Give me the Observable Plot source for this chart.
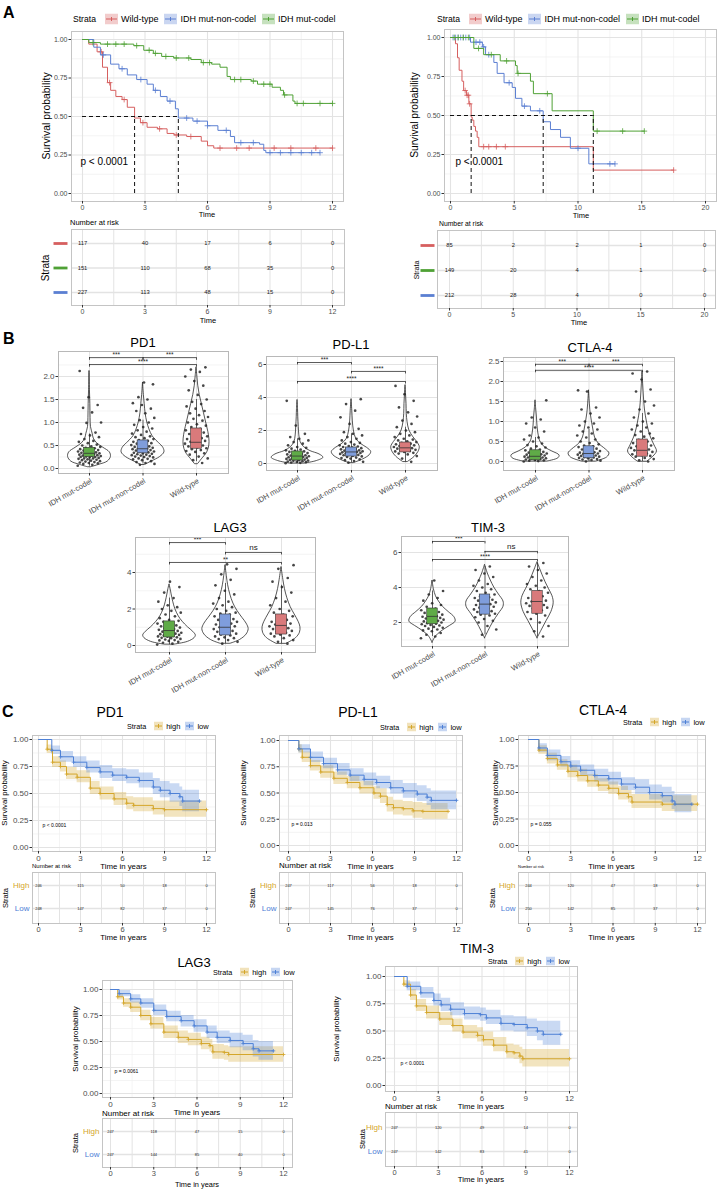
<!DOCTYPE html>
<html><head><meta charset="utf-8">
<script src="https://cdn.jsdelivr.net/npm/d3@7"></script>
<script src="https://cdn.jsdelivr.net/npm/@observablehq/plot@0.6"></script>
<style>
body{margin:0;background:#fff;}
#root{position:relative;width:720px;height:1190px;overflow:hidden;background:#fff;font-family:"Liberation Sans",Arial,Helvetica,sans-serif;}
</style></head><body><div id="root"></div>
<script>
// ================= DATA =================
// ---- Panel A (left) ----
const aStrata = ["Wild-type", "IDH mut-non-codel", "IDH mut-codel"];
const aL_wt_t = [0,0.3,0.7,0.96,1.2,1.35,1.6,1.9,2.15,2.5,2.78,3.1,3.6,4.06,4.4,5.0,5.7,6.0,6.3,12];
const aL_wt_s = [1,0.97,0.92,0.82,0.72,0.67,0.63,0.61,0.56,0.49,0.46,0.43,0.42,0.39,0.38,0.37,0.34,0.31,0.295,0.295];
const aL_wt_c = [0.9,1.3,2.0,2.9,3.7,4.5,5.2,6.6,7.4,8.0,9.2,10.0,11.2,12];
const aL_non_t = [0,0.54,0.86,1.35,1.75,2.15,2.6,3.1,3.4,3.74,4.06,4.46,4.6,5.3,6.0,6.5,7.1,7.3,8.5,8.7,8.8,11.4];
const aL_non_s = [1,0.95,0.9,0.84,0.81,0.77,0.74,0.71,0.67,0.63,0.6,0.55,0.49,0.47,0.44,0.41,0.37,0.33,0.32,0.28,0.265,0.265];
const aL_non_c = [1.0,1.9,2.8,3.5,4.2,5.0,5.5,6.0,6.9,7.6,8.2,9.0,9.5,10.0,10.5,11.0,11.4];
const aL_cod_t = [0,0.3,0.86,2.46,2.94,3.4,3.8,4.38,5.2,5.7,6.2,6.6,6.94,7.1,8.1,8.4,9.1,9.5,9.65,10.1,10.2,12];
const aL_cod_s = [1,0.98,0.97,0.96,0.93,0.91,0.89,0.88,0.87,0.85,0.84,0.82,0.76,0.74,0.73,0.71,0.69,0.67,0.64,0.6,0.585,0.585];
const aL_cod_c = [0.5,1.2,1.6,2.0,2.6,3.2,3.5,4.0,4.5,5.1,5.8,6.1,7.3,7.6,8.2,8.7,9.0,9.7,10.3,10.6,11.4,12];
const aL_medians = [2.5, 4.6];
const aL_times = [0,3,6,9,12];
const aL_risk_wt = [117,40,17,6,0];
const aL_risk_cod = [151,110,68,35,0];
const aL_risk_non = [227,113,48,15,0];
const aL_p = "p < 0.0001";
// ---- Panel A (right) ----
const aR_wt_t = [0,0.39,0.55,0.68,0.9,1.03,1.25,1.44,1.62,1.7,1.83,1.96,2.09,2.22,11.2,17.5];
const aR_wt_s = [1,0.96,0.87,0.79,0.72,0.66,0.63,0.575,0.49,0.47,0.43,0.40,0.36,0.30,0.15,0.15];
const aR_wt_c = [1.15,1.3,1.4,1.5,2.6,3.0,3.6,4.3,17.5];
const aR_non_t = [0,1.57,2.5,2.75,3.4,3.66,4.2,4.84,5.1,5.6,6.27,7.27,7.84,8.63,9.4,10.85,12.9];
const aR_non_s = [1,0.97,0.94,0.89,0.84,0.77,0.71,0.68,0.61,0.56,0.53,0.46,0.41,0.36,0.29,0.19,0.19];
const aR_non_c = [0.2,0.4,0.6,0.8,1.0,1.2,1.5,2.0,2.3,2.6,3.0,4.6,5.8,7.0,10.0,12.5,12.9];
const aR_cod_t = [0,1.83,2.6,3.9,5.1,5.23,6.27,6.5,7.97,11.2,15.2];
const aR_cod_s = [1,0.93,0.89,0.85,0.82,0.77,0.72,0.64,0.53,0.40,0.40];
const aR_cod_c = [0.3,0.6,1.0,1.4,2.2,3.2,4.4,5.3,7.6,11.5,13.5,15.2];
const aR_medians = [1.62, 7.27, 11.2];
const aR_times = [0,5,10,15,20];
const aR_risk_wt = [85,2,2,1,0];
const aR_risk_cod = [149,20,4,1,0];
const aR_risk_non = [212,28,4,0,0];
const aR_p = "p < 0.0001";

// ---- Panel B (violins) ----
const bGroups = ["IDH mut-codel", "IDH mut-non-codel", "Wild-type"];
// PD1
const pd1Pts = [
 [0.06,0.08,0.1,0.11,0.12,0.13,0.14,0.15,0.16,0.17,0.18,0.19,0.2,0.21,0.22,0.22,0.23,0.24,0.25,0.25,0.26,0.27,0.28,0.28,0.29,0.3,0.3,0.31,0.32,0.33,0.33,0.34,0.35,0.36,0.37,0.38,0.39,0.4,0.41,0.42,0.44,0.45,0.47,0.48,0.5,0.52,0.55,0.58,0.6,0.64,0.68,0.72,0.75,0.78,0.99,1.0,1.22,1.32,1.38,1.55,2.12],
 [0.08,0.1,0.12,0.14,0.16,0.18,0.2,0.21,0.22,0.24,0.25,0.26,0.27,0.28,0.29,0.3,0.31,0.32,0.33,0.34,0.35,0.36,0.37,0.38,0.39,0.4,0.41,0.42,0.43,0.44,0.45,0.46,0.47,0.48,0.5,0.51,0.52,0.54,0.55,0.57,0.58,0.6,0.62,0.64,0.66,0.68,0.7,0.73,0.76,0.8,0.83,0.87,0.9,0.95,1.0,1.05,1.1,1.2,1.25,1.3,1.38,1.42,1.5,1.55,1.83,1.87],
 [0.12,0.18,0.22,0.26,0.3,0.33,0.36,0.38,0.4,0.42,0.44,0.46,0.48,0.5,0.52,0.54,0.56,0.58,0.6,0.62,0.64,0.66,0.68,0.7,0.72,0.75,0.78,0.8,0.83,0.86,0.9,0.93,0.96,1.0,1.04,1.08,1.12,1.16,1.2,1.25,1.3,1.35,1.4,1.45,1.5,1.6,1.7,1.8,1.9,2.0,2.1,2.15,2.2]];
const pd1Dens = [
 [[0.03,0.1],[0.08,0.45],[0.15,0.85],[0.25,1.0],[0.35,0.95],[0.45,0.65],[0.55,0.35],[0.65,0.2],[0.75,0.15],[0.9,0.07],[1.1,0.05],[1.4,0.04],[1.7,0.02],[2.12,0]],
 [[0.08,0.1],[0.15,0.4],[0.25,0.8],[0.35,1.0],[0.45,0.95],[0.55,0.75],[0.7,0.45],[0.85,0.3],[1.0,0.2],[1.2,0.12],[1.4,0.08],[1.6,0.04],[1.87,0]],
 [[0.1,0.08],[0.2,0.25],[0.35,0.5],[0.5,0.6],[0.65,0.6],[0.8,0.55],[1.0,0.45],[1.2,0.35],[1.4,0.25],[1.6,0.15],[1.8,0.08],[2.0,0.04],[2.2,0]]];
const pd1Box = [[0.05,0.25,0.33,0.45,0.75],[0.1,0.33,0.43,0.61,1.05],[0.15,0.43,0.57,0.87,1.5]];
const pd1Sig = [[1,2,2.41,"***"],[2,3,2.41,"***"],[1,3,2.26,"****"]];
// PD-L1
const pdl1Pts = [
 [0.02,0.04,0.06,0.08,0.1,0.12,0.14,0.16,0.18,0.2,0.22,0.24,0.26,0.28,0.3,0.32,0.34,0.36,0.38,0.4,0.42,0.44,0.46,0.48,0.5,0.52,0.55,0.58,0.6,0.63,0.66,0.7,0.73,0.76,0.8,0.85,0.9,0.95,1.0,1.1,1.2,1.3,1.4,1.5,1.6,1.8,2.3,3.8],
 [0.05,0.1,0.15,0.2,0.25,0.3,0.33,0.36,0.4,0.43,0.46,0.5,0.52,0.55,0.58,0.6,0.62,0.64,0.66,0.68,0.7,0.72,0.74,0.76,0.78,0.8,0.83,0.86,0.88,0.9,0.93,0.96,1.0,1.03,1.06,1.1,1.15,1.2,1.25,1.3,1.4,1.5,1.6,1.7,1.8,1.9,2.1,2.4,2.8,3.2,3.6,3.9],
 [0.1,0.3,0.45,0.55,0.6,0.65,0.7,0.73,0.76,0.8,0.83,0.86,0.9,0.93,0.96,1.0,1.03,1.06,1.1,1.13,1.16,1.2,1.25,1.3,1.35,1.4,1.45,1.5,1.6,1.7,1.8,1.9,2.0,2.2,2.4,2.6,2.85,3.1,3.4,3.8,4.2,4.7]];
const pdl1Dens = [
 [[0.0,0.3],[0.15,0.75],[0.35,1.0],[0.55,0.85],[0.75,0.5],[1.0,0.25],[1.3,0.12],[1.7,0.07],[2.2,0.05],[2.8,0.03],[3.3,0.02],[3.85,0]],
 [[0.03,0.1],[0.25,0.45],[0.5,0.7],[0.7,0.76],[0.95,0.6],[1.2,0.35],[1.5,0.18],[2.0,0.09],[2.6,0.05],[3.2,0.03],[3.9,0]],
 [[0.1,0.1],[0.4,0.35],[0.7,0.5],[1.0,0.55],[1.3,0.45],[1.6,0.3],[2.0,0.15],[2.5,0.08],[3.0,0.05],[3.6,0.04],[4.2,0.02],[4.75,0]]];
const pdl1Box = [[0.02,0.18,0.45,0.73,1.5],[0.05,0.42,0.7,0.97,1.8],[0.1,0.67,0.95,1.27,2.2]];
const pdl1Sig = [[1,2,6.12,"***"],[2,3,5.58,"****"],[1,3,4.97,"****"]];
// CTLA-4
const ctlaPts = [
 [0.0,0.01,0.02,0.03,0.04,0.05,0.06,0.07,0.08,0.09,0.1,0.1,0.11,0.12,0.13,0.14,0.15,0.16,0.17,0.18,0.19,0.2,0.21,0.22,0.24,0.26,0.28,0.3,0.32,0.35,0.38,0.41,0.45,0.5,0.55,0.6,0.65,0.75,0.85,0.95,1.05,1.1,1.53],
 [0.0,0.02,0.04,0.05,0.06,0.08,0.09,0.1,0.11,0.12,0.13,0.14,0.15,0.16,0.17,0.18,0.19,0.2,0.21,0.22,0.23,0.24,0.26,0.28,0.3,0.32,0.34,0.36,0.38,0.4,0.43,0.46,0.5,0.55,0.6,0.65,0.7,0.75,0.8,0.85,0.9,0.95,1.0,1.1,1.2,1.3,1.35,1.75,1.78],
 [0.0,0.03,0.06,0.09,0.12,0.14,0.16,0.18,0.2,0.22,0.24,0.26,0.28,0.3,0.32,0.34,0.36,0.38,0.4,0.43,0.46,0.5,0.54,0.58,0.62,0.66,0.7,0.75,0.8,0.85,0.9,0.95,1.0,1.1,1.2,1.3,1.4,1.5,1.75,1.8,2.05,2.2,2.25]];
const ctlaDens = [
 [[0.0,0.5],[0.08,0.95],[0.15,1.0],[0.25,0.7],[0.35,0.4],[0.5,0.2],[0.7,0.12],[0.9,0.08],[1.1,0.06],[1.3,0.03],[1.53,0]],
 [[0.0,0.3],[0.1,0.75],[0.2,0.85],[0.3,0.7],[0.45,0.4],[0.6,0.25],[0.8,0.18],[1.0,0.12],[1.2,0.07],[1.4,0.04],[1.78,0]],
 [[0.0,0.2],[0.12,0.45],[0.25,0.6],[0.4,0.5],[0.6,0.35],[0.8,0.25],[1.0,0.18],[1.3,0.1],[1.6,0.06],[1.9,0.03],[2.25,0]]];
const ctlaBox = [[0.0,0.03,0.13,0.28,0.6],[0.0,0.08,0.2,0.38,0.8],[0.0,0.12,0.28,0.55,1.2]];
const ctlaSig = [[1,2,2.43,"***"],[2,3,2.43,"***"],[1,3,2.28,"****"]];
// LAG3
const lagPts = [
 [0.05,0.1,0.15,0.2,0.25,0.28,0.3,0.33,0.36,0.4,0.42,0.45,0.48,0.5,0.52,0.55,0.58,0.6,0.62,0.65,0.68,0.7,0.73,0.76,0.8,0.83,0.86,0.9,0.94,0.98,1.0,1.05,1.1,1.15,1.2,1.25,1.3,1.35,1.4,1.5,1.6,1.7,1.8,1.9,2.0,2.1,2.2,2.4,2.6,2.9,3.2,3.5],
 [0.1,0.2,0.3,0.35,0.4,0.45,0.5,0.55,0.6,0.65,0.7,0.75,0.8,0.85,0.9,0.95,1.0,1.05,1.1,1.15,1.2,1.25,1.3,1.35,1.4,1.45,1.5,1.6,1.7,1.75,1.8,1.9,2.0,2.1,2.2,2.3,2.4,2.6,2.8,3.0,3.3,3.6,3.9,4.2,4.45],
 [0.1,0.2,0.3,0.4,0.5,0.55,0.6,0.65,0.7,0.75,0.8,0.85,0.9,0.95,1.0,1.05,1.1,1.15,1.2,1.25,1.3,1.4,1.5,1.6,1.7,1.8,1.9,2.0,2.2,2.4,2.6,2.9,3.2,3.5,3.7,4.2,4.4]];
const lagDens = [
 [[0.05,0.2],[0.2,0.7],[0.4,0.95],[0.55,1.0],[0.75,0.9],[1.0,0.7],[1.3,0.5],[1.6,0.35],[2.0,0.22],[2.4,0.14],[2.8,0.08],[3.1,0.04],[3.35,0]],
 [[0.1,0.2],[0.3,0.55],[0.6,0.8],[0.9,0.88],[1.2,0.8],[1.5,0.65],[1.9,0.45],[2.3,0.3],[2.8,0.18],[3.3,0.1],[3.8,0.05],[4.4,0]],
 [[0.1,0.2],[0.4,0.55],[0.7,0.7],[1.0,0.72],[1.3,0.65],[1.7,0.5],[2.1,0.35],[2.6,0.22],[3.1,0.13],[3.6,0.07],[4.3,0]]];
const lagBox = [[0.05,0.44,0.82,1.32,2.6],[0.1,0.55,1.0,1.7,3.4],[0.1,0.6,1.1,1.7,3.3]];
const lagSig = [[1,2,5.64,"***"],[2,3,5.1,"ns"],[1,3,4.55,"**"]];
// TIM-3
const timPts = [
 [1.1,1.2,1.3,1.4,1.5,1.55,1.6,1.65,1.7,1.75,1.8,1.83,1.86,1.9,1.93,1.96,2.0,2.03,2.06,2.1,2.13,2.16,2.2,2.23,2.26,2.3,2.33,2.36,2.4,2.45,2.5,2.55,2.6,2.65,2.7,2.8,2.9,3.0,3.1,3.25,3.4,3.6,3.8,4.4],
 [1.3,1.6,1.8,2.0,2.1,2.2,2.3,2.4,2.45,2.5,2.55,2.6,2.65,2.7,2.75,2.8,2.85,2.9,2.95,3.0,3.05,3.1,3.15,3.2,3.25,3.3,3.35,3.4,3.45,3.5,3.6,3.7,3.8,3.9,4.0,4.1,4.2,4.4,4.6,4.8,5.0,5.2],
 [1.2,1.5,1.8,2.0,2.2,2.4,2.5,2.6,2.7,2.8,2.85,2.9,2.95,3.0,3.05,3.1,3.15,3.2,3.25,3.3,3.4,3.5,3.6,3.7,3.8,3.9,4.0,4.1,4.2,4.4,4.6,4.8,5.0,5.2,5.4]];
const timDens = [
 [[0.85,0],[1.2,0.15],[1.5,0.4],[1.8,0.75],[2.05,1.0],[2.3,0.95],[2.6,0.7],[2.9,0.45],[3.2,0.28],[3.5,0.15],[3.9,0.06],[4.4,0]],
 [[1.1,0],[1.5,0.15],[2.0,0.35],[2.5,0.6],[2.9,0.8],[3.2,0.8],[3.6,0.6],[4.0,0.4],[4.4,0.25],[4.8,0.12],[5.3,0]],
 [[1.1,0],[1.6,0.2],[2.1,0.4],[2.6,0.6],[3.1,0.7],[3.5,0.65],[3.9,0.5],[4.3,0.35],[4.7,0.22],[5.1,0.1],[5.45,0]]];
const timBox = [[1.2,1.9,2.35,2.8,3.8],[1.3,2.45,3.05,3.6,5.2],[1.2,2.5,3.2,3.8,5.4]];
const timSig = [[1,2,6.63,"***"],[2,3,6.06,"ns"],[1,3,5.6,"****"]];

// ---- Panel C (high / low expression) ----
const cStrata = ["high", "low"];
const cTimes = [0,3,6,9,12];
const pd1High = {t:[0,0.62,1.0,1.57,2.0,2.76,3.7,4.4,5.4,6.3,6.8,8.2,9.0,12], s:[1,0.91,0.79,0.75,0.68,0.65,0.55,0.50,0.45,0.41,0.39,0.36,0.35,0.35], lo:[1,0.87,0.74,0.70,0.63,0.60,0.49,0.44,0.39,0.35,0.33,0.30,0.28,0.28], hi:[1,0.95,0.84,0.80,0.74,0.71,0.61,0.56,0.51,0.47,0.46,0.43,0.43,0.43]};
const pd1Low = {t:[0,0.95,1.57,2.5,3.45,4.4,5.3,6.3,7.2,8.2,8.7,9.4,10.1,10.3,11.5], s:[1,0.90,0.84,0.79,0.74,0.70,0.67,0.65,0.62,0.56,0.53,0.50,0.47,0.43,0.43], lo:[1,0.86,0.79,0.74,0.69,0.64,0.61,0.59,0.55,0.49,0.46,0.42,0.38,0.33,0.33], hi:[1,0.94,0.89,0.84,0.80,0.76,0.73,0.72,0.69,0.64,0.61,0.59,0.56,0.53,0.53]};
const pdl1High = {t:[0,0.74,0.98,1.57,2.3,3.24,4.2,5.1,6.1,6.57,7.05,7.5,8.2,8.9,9.6,11.4], s:[1,0.92,0.84,0.76,0.70,0.64,0.60,0.55,0.50,0.47,0.39,0.36,0.35,0.33,0.325,0.325], lo:[1,0.88,0.79,0.71,0.64,0.58,0.54,0.49,0.44,0.40,0.32,0.29,0.28,0.26,0.25,0.25], hi:[1,0.96,0.89,0.81,0.76,0.70,0.66,0.61,0.56,0.54,0.46,0.43,0.42,0.41,0.40,0.40]};
const pdl1Low = {t:[0,0.74,1.57,2.5,3.5,4.4,5.4,6.3,7.3,8.2,9.2,9.9,10.2,12], s:[1,0.92,0.84,0.78,0.72,0.67,0.63,0.60,0.55,0.52,0.49,0.46,0.43,0.43], lo:[1,0.88,0.79,0.73,0.67,0.61,0.57,0.54,0.49,0.45,0.42,0.38,0.34,0.34], hi:[1,0.96,0.89,0.83,0.78,0.73,0.69,0.66,0.62,0.59,0.57,0.54,0.52,0.52]};
const ctlaHigh = {t:[0,0.74,1.34,2.05,2.8,3.5,4.2,4.96,5.7,6.4,7.1,7.35,9.5,12], s:[1,0.90,0.82,0.76,0.70,0.66,0.61,0.57,0.54,0.49,0.46,0.41,0.39,0.39], lo:[1,0.86,0.77,0.71,0.64,0.60,0.55,0.51,0.48,0.43,0.40,0.35,0.32,0.32], hi:[1,0.94,0.87,0.81,0.76,0.72,0.67,0.63,0.60,0.56,0.52,0.48,0.47,0.47]};
const ctlaLow = {t:[0,0.74,1.34,2.3,3.0,3.7,4.7,5.7,6.6,7.6,8.6,9.5,10.2,10.4,11.6], s:[1,0.92,0.85,0.79,0.75,0.71,0.66,0.63,0.58,0.55,0.50,0.47,0.42,0.39,0.39], lo:[1,0.88,0.80,0.74,0.70,0.65,0.60,0.57,0.52,0.48,0.43,0.40,0.34,0.31,0.31], hi:[1,0.96,0.90,0.84,0.80,0.76,0.72,0.69,0.64,0.62,0.57,0.55,0.51,0.48,0.48]};
const lagHigh = {t:[0,0.5,0.9,1.4,2.1,2.8,3.7,4.7,5.4,6.3,6.9,7.1,7.9,8.2,12], s:[1,0.93,0.87,0.83,0.75,0.67,0.59,0.54,0.52,0.48,0.46,0.40,0.395,0.375,0.375], lo:[1,0.90,0.83,0.78,0.70,0.62,0.53,0.48,0.46,0.42,0.40,0.33,0.32,0.30,0.30], hi:[1,0.96,0.91,0.88,0.80,0.73,0.65,0.60,0.58,0.54,0.52,0.47,0.46,0.45,0.45]};
const lagLow = {t:[0,0.6,1.4,2.1,3.0,3.9,4.9,5.8,6.7,7.4,8.3,9.2,9.9,10.3,11.3], s:[1,0.96,0.91,0.87,0.80,0.74,0.70,0.65,0.59,0.54,0.51,0.48,0.43,0.41,0.41], lo:[1,0.93,0.87,0.82,0.75,0.69,0.64,0.59,0.53,0.48,0.44,0.41,0.35,0.32,0.32], hi:[1,0.99,0.95,0.91,0.85,0.79,0.75,0.71,0.65,0.60,0.58,0.56,0.51,0.50,0.50]};
const timHigh = {t:[0,0.64,1.1,1.5,2.2,3.1,4.0,4.7,5.7,6.1,6.8,7.7,8.2,8.6,8.8,12], s:[1,0.93,0.83,0.73,0.67,0.61,0.55,0.49,0.46,0.42,0.37,0.31,0.30,0.27,0.245,0.245], lo:[1,0.90,0.78,0.68,0.61,0.55,0.49,0.43,0.40,0.36,0.31,0.25,0.24,0.20,0.17,0.17], hi:[1,0.96,0.88,0.79,0.73,0.67,0.61,0.55,0.53,0.49,0.44,0.38,0.37,0.35,0.33,0.33]};
const timLow = {t:[0,0.87,1.8,2.7,3.2,3.85,4.8,5.9,6.3,7.3,8.2,9.1,9.8,10.2,11.4], s:[1,0.91,0.85,0.78,0.74,0.70,0.66,0.65,0.62,0.57,0.56,0.53,0.50,0.47,0.47], lo:[1,0.87,0.80,0.73,0.68,0.64,0.60,0.59,0.56,0.50,0.49,0.45,0.41,0.37,0.37], hi:[1,0.95,0.90,0.84,0.80,0.76,0.72,0.71,0.69,0.64,0.63,0.61,0.59,0.59,0.59]};
const riskPD1 = [[246,115,50,18,0],[248,147,82,37,0]];
const riskPDL1 = [[247,117,56,18,0],[247,145,76,37,0]];
const riskCTLA = [[244,120,47,18,0],[250,142,85,37,0]];
const riskLAG = [[247,118,47,15,0],[247,144,85,40,0]];
const riskTIM = [[247,120,49,14,0],[247,142,83,41,0]];
const pPD1 = "p < 0.0001", pPDL1 = "p = 0.013", pCTLA = "p = 0.055", pLAG = "p = 0.0061", pTIM = "p < 0.0001";

// ================= STYLE =================
const RED="#d65f5f", BLUE="#5b7fd2", GREEN="#4fa135";
const GOLD="#d4a62a", CBLUE="#4d80d6";
const BOXC=["#5fab47","#7f9ddc","#d97a7b"];
const FONT='"Liberation Sans", Arial, Helvetica, sans-serif';
const GRID="#e3e3e3", GRIDM="#efefef", BORDER="#c4c4c4", TXT="#4d4d4d";
const root=document.getElementById("root");

function lin(v0,p0,v1,p1){const k=(p1-p0)/(v1-v0);return p=>v0+(p-p0)/k;}
function label(s,x,y,o={}){
  const {size=10,color="#000",anchor="middle",rot=0,weight="normal"}=o;
  const d=document.createElement("div");d.textContent=s;
  Object.assign(d.style,{position:"absolute",left:x+"px",top:y+"px",fontSize:size+"px",color,fontWeight:weight,whiteSpace:"nowrap",lineHeight:"1",fontFamily:FONT,transformOrigin:"0 0"});
  const tx=anchor==="start"?"0":anchor==="end"?"-100%":"-50%";
  d.style.transform=`rotate(${rot}deg) translate(${tx},-50%)`;
  root.appendChild(d);
}
function swatch(c,w,h){
  return `<svg width="${w}" height="${h}" style="display:block"><rect x="0" y="0" width="${w}" height="${h}" fill="${c}" fill-opacity="0.32"/><line x1="1" x2="${w-1}" y1="${h/2}" y2="${h/2}" stroke="${c}" stroke-width="1"/><line x1="${w/2}" x2="${w/2}" y1="${h/2-2}" y2="${h/2+2}" stroke="${c}" stroke-width="1"/></svg>`;
}
function legend(x,y,title,items,o={}){
  const {size=9,tsize=8.6,sw=13,sh=11,gap=6}=o;
  const d=document.createElement("div");
  Object.assign(d.style,{position:"absolute",left:x+"px",top:y+"px",transform:"translateY(-50%)",display:"flex",alignItems:"center",fontFamily:FONT,whiteSpace:"nowrap",lineHeight:"1",color:"#000"});
  let h=`<span style="font-size:${tsize}px;margin-right:${gap+3}px">${title}</span>`;
  for(const [n,c] of items) h+=swatch(c,sw,sh)+`<span style="font-size:${size}px;margin-left:3px;margin-right:${gap}px">${n}</span>`;
  d.innerHTML=h;root.appendChild(d);
}
function makePlot(frame,xa,ya,m,marks,noYAxis){
  const [L,T,R,B]=frame;const xi=lin(...xa),yi=lin(...ya);
  const p=Plot.plot({
    width:R-L+m[3]+m[1],height:B-T+m[0]+m[2],
    marginTop:m[0],marginRight:m[1],marginBottom:m[2],marginLeft:m[3],
    x:{domain:[xi(L),xi(R)]},
    y:noYAxis?{domain:[yi(B),yi(T)],axis:null}:{domain:[yi(B),yi(T)]},
    style:{fontFamily:FONT,background:"transparent",overflow:"visible"},
    marks
  });
  Object.assign(p.style,{position:"absolute",left:(L-m[3])+"px",top:(T-m[0])+"px"});
  root.appendChild(p);return p;
}
function stepAt(ts,ss,t){const i=d3.bisectRight(ts,t)-1;return ss[Math.max(0,Math.min(i,ss.length-1))];}

function km(o){
  const marks=[
    Plot.ruleX(o.xm,{stroke:GRIDM,strokeWidth:0.7}),
    Plot.ruleY(o.ym,{stroke:GRIDM,strokeWidth:0.7}),
    Plot.ruleX(o.xt,{stroke:GRID,strokeWidth:1.1}),
    Plot.ruleY(o.yt,{stroke:GRID,strokeWidth:1.1})];
  for(const c of o.curves) if(c.lo){
    const rows=c.t.map((t,i)=>({t,lo:c.lo[i],hi:c.hi[i]}));
    marks.push(Plot.areaY(rows,{x:"t",y1:"lo",y2:"hi",fill:c.color,fillOpacity:0.3,curve:"step-after"}));
  }
  for(const c of o.curves){
    const rows=c.t.map((t,i)=>({t,s:c.s[i]}));
    marks.push(Plot.line(rows,{x:"t",y:"s",stroke:c.color,strokeWidth:o.lw||1,curve:"step-after"}));
    const cens=(c.c||c.t.slice(1)).map(t=>({t,s:stepAt(c.t,c.s,t)}));
    marks.push(Plot.dot(cens,{x:"t",y:"s",symbol:"plus",r:o.cr||1.8,stroke:c.color,strokeWidth:0.8}));
  }
  if(o.med){
    marks.push(Plot.ruleY([0.5],{x1:0,x2:d3.max(o.med),stroke:"#111",strokeDasharray:"4,3",strokeWidth:1}));
    marks.push(Plot.ruleX(o.med,{y1:0,y2:0.5,stroke:"#111",strokeDasharray:"4,3",strokeWidth:1}));
  }
  marks.push(Plot.text([o.p],{text:d=>d,frameAnchor:"bottom-left",dx:o.pdx,dy:o.pdy,textAnchor:"start",fontSize:o.ps,fill:"#000"}));
  marks.push(Plot.frame({stroke:BORDER}));
  marks.push(Plot.axisY(o.yt,{tickSize:2.5,tickPadding:1.5,fontSize:o.fs,tickFormat:d3.format(".2f"),color:"#333",fill:TXT,label:null}));
  marks.push(Plot.axisX(o.xt,{tickSize:2.5,tickPadding:1,fontSize:o.fs,color:"#333",fill:TXT,label:null}));
  return makePlot(o.frame,o.xa,o.ya,[2,4,16,32],marks);
}
const BAR={draw(ctx){ctx.moveTo(-7,-1.4);ctx.lineTo(7,-1.4);ctx.lineTo(7,1.4);ctx.lineTo(-7,1.4);ctx.closePath();}};
function risk(o){
  const n=o.rows.length;
  const cells=o.rows.flatMap((r,ri)=>r.vals.map((v,ci)=>({t:o.xt[ci],r:ri,v})));
  const marks=[
    Plot.ruleX(o.xm,{stroke:GRID,strokeWidth:1}),
    Plot.ruleX(o.xt,{stroke:GRID,strokeWidth:1}),
    Plot.ruleY(d3.range(n),{stroke:GRID,strokeWidth:1.4}),
    Plot.text(cells,{x:"t",y:"r",text:d=>String(d.v),fontSize:o.ns,fill:"#1a1a1a"}),
    Plot.frame({stroke:BORDER}),
    Plot.axisX(o.xt,{tickSize:2.5,tickPadding:1,fontSize:o.fs,color:"#333",fill:TXT,label:null})];
  o.rows.forEach((r,ri)=>{
    if(o.mode==="dash") marks.push(Plot.dot([ri],{y:d=>d,frameAnchor:"left",dx:o.ldx,symbol:BAR,fill:r.color,stroke:"none"}));
    else marks.push(Plot.text([ri],{y:d=>d,frameAnchor:"left",dx:o.ldx,textAnchor:"end",text:()=>r.name,fill:r.color,fontSize:o.ls}));
  });
  return makePlot(o.frame,o.xa,o.ya,[2,4,16,32],marks,true);
}
function violin(o){
  const W=o.W,BW=0.1,J=0.22;
  const g=[1,2,3];
  const yi=lin(...o.ya);const span=Math.abs(yi(o.frame[1])-yi(o.frame[3]));const tl=span*0.022;
  const marks=[
    Plot.ruleY(o.ym,{stroke:GRIDM,strokeWidth:0.7}),
    Plot.ruleY(o.yt,{stroke:GRID,strokeWidth:1}),
    Plot.ruleX(g,{stroke:GRID,strokeWidth:1})];
  o.dens.forEach((arr,gi)=>{
    const rows=arr.map(([v,w])=>({v,w}));
    marks.push(Plot.areaX(rows,{y:"v",x1:d=>gi+1-d.w*W,x2:d=>gi+1+d.w*W,fill:"none",stroke:"#1e1e1e",strokeWidth:0.75,curve:"catmull-rom"}));
  });
  const pRows=o.pts.flatMap((arr,gi)=>arr.map((v,i)=>({g:gi+1,v,j:(((i*0.618034+gi*0.37)%1)-0.5)*2*J})));
  marks.push(Plot.dot(pRows,{x:d=>d.g+d.j,y:"v",r:1.35,fill:"#262626",fillOpacity:0.85,stroke:"none"}));
  o.box.forEach(([lo,q1,med,q3,hi],gi)=>{
    const r=[{g:gi+1,lo,q1,med,q3,hi}];
    marks.push(Plot.ruleX(r,{x:"g",y1:"lo",y2:"q1",stroke:"#222",strokeWidth:0.7}));
    marks.push(Plot.ruleX(r,{x:"g",y1:"q3",y2:"hi",stroke:"#222",strokeWidth:0.7}));
    marks.push(Plot.rect(r,{x1:d=>d.g-BW,x2:d=>d.g+BW,y1:"q1",y2:"q3",fill:BOXC[gi],stroke:"#333",strokeWidth:0.6}));
    marks.push(Plot.ruleY(r,{y:"med",x1:d=>d.g-BW,x2:d=>d.g+BW,stroke:"#333",strokeWidth:0.8}));
  });
  const br=o.sig.map(([a,b,y,lab])=>({a,b,y,lab,m:(a+b)/2}));
  const ends=br.flatMap(d=>[{x:d.a,y:d.y},{x:d.b,y:d.y}]);
  marks.push(Plot.ruleY(br,{y:"y",x1:"a",x2:"b",stroke:"#222",strokeWidth:0.75}));
  marks.push(Plot.ruleX(ends,{x:"x",y1:"y",y2:d=>d.y-tl,stroke:"#222",strokeWidth:0.75}));
  marks.push(Plot.text(br.filter(d=>d.lab!=="ns"),{x:"m",y:"y",text:"lab",dy:-2.5,fontSize:6.5,fill:"#222"}));
  marks.push(Plot.text(br.filter(d=>d.lab==="ns"),{x:"m",y:"y",text:"lab",dy:-5,fontSize:8,fill:"#222"}));
  marks.push(Plot.frame({stroke:"#b8b8b8"}));
  marks.push(Plot.axisY(o.yt,{tickSize:2.5,tickPadding:1.5,fontSize:8,tickFormat:o.fmt,color:"#333",fill:TXT,label:null}));
  marks.push(Plot.axisX(g,{tickSize:2.5,tickFormat:()=>"",color:"#333",label:null}));
  marks.push(Plot.text(bGroups.map((n,i)=>({g:i+1,n})),{x:"g",text:"n",frameAnchor:"bottom",rotate:-30,textAnchor:"end",dy:9,dx:3,fontSize:7.6,fill:TXT}));
  return makePlot(o.frame,[1,o.gx[0],3,o.gx[1]],o.ya,[4,6,50,24],marks);
}

// ================= PANEL A =================
label("A",3,13,{size:16,weight:"bold",anchor:"start"});
label("B",3,339,{size:16,weight:"bold",anchor:"start"});
label("C",2,712,{size:16,weight:"bold",anchor:"start"});
const aItems=[[aStrata[0],RED],[aStrata[1],BLUE],[aStrata[2],GREEN]];
legend(73,19,"Strata",aItems,{size:9,tsize:8.6});
legend(437,19,"Strata",aItems,{size:9,tsize:8.6});

km({frame:[71,31,343,201],xa:[0,82,12,332],ya:[0,193,1,39],
  xt:aL_times,xm:[1.5,4.5,7.5,10.5],yt:[0,0.25,0.5,0.75,1],ym:[0.125,0.375,0.625,0.875],
  curves:[{t:aL_wt_t,s:aL_wt_s,c:aL_wt_c,color:RED},{t:aL_non_t,s:aL_non_s,c:aL_non_c,color:BLUE},{t:aL_cod_t,s:aL_cod_s,c:aL_cod_c,color:GREEN}],
  med:aL_medians,p:aL_p,pdx:9,pdy:-37,ps:10,fs:7,cr:2});
label("Survival probability",47,116,{size:10.4,rot:-90});
label("Time",207,215,{size:7.5});
label("Number at risk",70,223,{size:7.5,anchor:"start"});
risk({frame:[71,229,344,305],xa:[0,82,12,332],ya:[0,243,2,292],xt:aL_times,xm:[1.5,4.5,7.5,10.5],
  rows:[{vals:aL_risk_wt,color:RED},{vals:aL_risk_cod,color:GREEN},{vals:aL_risk_non,color:BLUE}],
  mode:"dash",ldx:-11,ns:5.8,fs:7});
label("Strata",46,268,{size:10,rot:-90});
label("Time",208,321,{size:7.5});

km({frame:[444,29,716,201],xa:[0,450,20,705],ya:[0,193,1,37],
  xt:aR_times,xm:[2.5,7.5,12.5,17.5],yt:[0,0.25,0.5,0.75,1],ym:[0.125,0.375,0.625,0.875],
  curves:[{t:aR_wt_t,s:aR_wt_s,c:aR_wt_c,color:RED},{t:aR_non_t,s:aR_non_s,c:aR_non_c,color:BLUE},{t:aR_cod_t,s:aR_cod_s,c:aR_cod_c,color:GREEN}],
  med:aR_medians,p:aR_p,pdx:11,pdy:-37,ps:10,fs:7,cr:2});
label("Survival probability",415,115,{size:10.2,rot:-90});
label("Time",581,216,{size:7.5});
label("Number at risk",439,224,{size:6.8,anchor:"start"});
risk({frame:[437,230,715,308],xa:[0,449,20,704],ya:[0,245,2,295],xt:aR_times,xm:[2.5,7.5,12.5,17.5],
  rows:[{vals:aR_risk_wt,color:RED},{vals:aR_risk_cod,color:GREEN},{vals:aR_risk_non,color:BLUE}],
  mode:"dash",ldx:-10,ns:5.8,fs:7});
label("Strata",416,270,{size:7,rot:-90});
label("Time",579,323,{size:7.5});

// ================= PANEL B =================
label("PD1",143,342,{size:13});
violin({frame:[58,351,228,473],gx:[89,196],ya:[0,468,2,376],yt:[0,0.5,1,1.5,2],ym:[0.25,0.75,1.25,1.75,2.25],fmt:d3.format(".1f"),
  dens:pd1Dens,pts:pd1Pts,box:pd1Box,sig:pd1Sig,W:0.4});
label("PD-L1",351,344,{size:13});
violin({frame:[266,356,437,470],gx:[297,405],ya:[0,463,6,364],yt:[0,2,4,6],ym:[1,3,5],fmt:d3.format("d"),
  dens:pdl1Dens,pts:pdl1Pts,box:pdl1Box,sig:pdl1Sig,W:0.48});
label("CTLA-4",590,347,{size:13});
violin({frame:[503,357,674,470],gx:[535,642],ya:[0,461,2.5,361],yt:[0,0.5,1,1.5,2,2.5],ym:[0.25,0.75,1.25,1.75,2.25],fmt:d3.format(".1f"),
  dens:ctlaDens,pts:ctlaPts,box:ctlaBox,sig:ctlaSig,W:0.45});
label("LAG3",230,527,{size:13});
violin({frame:[135,537,315,652],gx:[169,281],ya:[0,645,4,572],yt:[0,2,4],ym:[1,3,5],fmt:d3.format("d"),
  dens:lagDens,pts:lagPts,box:lagBox,sig:lagSig,W:0.47});
label("TIM-3",488,527,{size:13});
violin({frame:[401,536,568,646],gx:[432,537],ya:[2,622,6,552],yt:[2,4,6],ym:[1,3,5],fmt:d3.format("d"),
  dens:timDens,pts:timPts,box:timBox,sig:timSig,W:0.44});

// ================= PANEL C =================
const cItems=[[cStrata[0],GOLD],[cStrata[1],CBLUE]];
function cPanel(o){
  label(o.title,o.tx,o.ty,{size:o.tsize||14});
  legend(o.lx,o.ly,"Strata",cItems,{size:7.5,tsize:7.2,sw:9,sh:9,gap:5});
  km({frame:o.frame,xa:o.xa,ya:o.ya,xt:cTimes,xm:[1.5,4.5,7.5,10.5],yt:[0,0.25,0.5,0.75,1],ym:[0.125,0.375,0.625,0.875],
    curves:[{...o.high,color:GOLD},{...o.low,color:CBLUE}],p:o.p,pdx:o.pdx,pdy:o.pdy,ps:5,fs:8,cr:1.3,lw:1});
  const cx=(o.frame[0]+o.frame[2])/2;
  label("Survival probability",o.ylx,(o.frame[1]+o.frame[3])/2,{size:7.8,rot:-90});
  label("Time in years",cx,o.frame[3]+15.5,{size:7.8});
  label("Number at risk",o.frame[0],o.nry,{size:o.nrs,anchor:"start"});
  risk({frame:o.rframe,xa:o.xa,ya:o.rya,xt:cTimes,xm:[1.5,4.5,7.5,10.5],
    rows:[{vals:o.risk[0],color:GOLD,name:"High"},{vals:o.risk[1],color:CBLUE,name:"Low"}],
    mode:"text",ldx:-3,ls:8,ns:4,fs:7.5});
  label("Strata",o.slx,(o.rframe[1]+o.rframe[3])/2,{size:7.5,rot:-90});
  label("Time in years",cx,o.rframe[3]+(o.rto||14.5),{size:o.rts||7.8});
}
cPanel({title:"PD1",tx:110,ty:712,lx:127,ly:726,frame:[32,735,215,851],xa:[0,38,12,206],ya:[0,847,1,739],
  high:pd1High,low:pd1Low,p:pPD1,pdx:10,pdy:-25,ylx:5,nry:866,nrs:6,rframe:[32,872,215,923],rya:[0,885,1,908],risk:riskPD1,slx:6});
cPanel({title:"PD-L1",tx:358,ty:712,lx:380,ly:727,frame:[279,735,462,851],xa:[0,288,12,456],ya:[0,845,1,740],
  high:pdl1High,low:pdl1Low,p:pPDL1,pdx:12,pdy:-26,ylx:244,nry:866,nrs:8,rframe:[279,872,462,923],rya:[0,885,1,908],risk:riskPDL1,slx:253});
cPanel({title:"CTLA-4",tx:603,ty:710,lx:623,ly:722,frame:[518,735,705,851],xa:[0,528,12,697],ya:[0,845,1,739],
  high:ctlaHigh,low:ctlaLow,p:pCTLA,pdx:12,pdy:-26,ylx:496,nry:867,nrs:4,rframe:[518,872,705,923],rya:[0,885,1,908],risk:riskCTLA,slx:493});
cPanel({title:"LAG3",tx:194,ty:962,tsize:13,lx:213,ly:972,frame:[102,980,292,1097],xa:[0,110,12,283],ya:[0,1093,1,989],
  high:lagHigh,low:lagLow,p:pLAG,pdx:12,pdy:-25,ylx:76,nry:1114,nrs:8,rframe:[102,1118,292,1167],rya:[0,1131,1,1154],risk:riskLAG,slx:76,rto:18,rts:7.4});
cPanel({title:"TIM-3",tx:477,ty:948,tsize:13,lx:488,ly:961,frame:[385,966,577,1091],xa:[0,394,12,569],ya:[0,1085,1,976],
  high:timHigh,low:timLow,p:pTIM,pdx:15,pdy:-27,ylx:337,nry:1107,nrs:8,rframe:[385,1112,577,1166],rya:[0,1127,1,1151],risk:riskTIM,slx:363,rto:14});
</script></body></html>
